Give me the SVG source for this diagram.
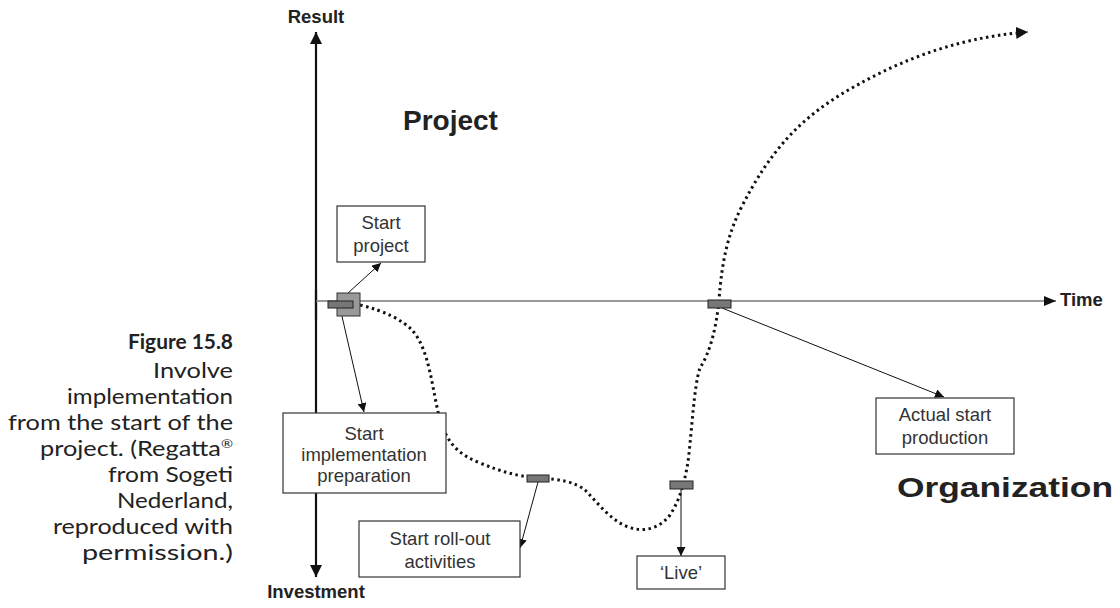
<svg xmlns="http://www.w3.org/2000/svg" width="1120" height="608" viewBox="0 0 1120 608">
<style>
.box{fill:#fff;stroke:#333;stroke-width:1.2}
.bt{font-family:"Liberation Sans",Arial,sans-serif;font-size:18.5px;fill:#333;text-anchor:middle}
.ax{font-family:"Liberation Sans",Arial,sans-serif;font-size:18.5px;font-weight:bold;fill:#222}
.big{font-family:"Liberation Sans",Arial,sans-serif;font-size:28px;font-weight:bold;fill:#222}
.cap{font-family:Lato,"Open Sans",sans-serif;font-size:21px;fill:#222;text-anchor:end}
.conn{stroke:#111;stroke-width:1;fill:none;marker-end:url(#ah)}
.bar{fill:#777;stroke:#222;stroke-width:1}
</style>
<defs>
<marker id="ah" viewBox="0 0 10 10" refX="10" refY="5" markerWidth="9" markerHeight="9" markerUnits="userSpaceOnUse" orient="auto"><path d="M0,0 L10,5 L0,10 z" fill="#111"/></marker>
<marker id="axh" viewBox="0 0 10 10" refX="10" refY="5" markerWidth="12" markerHeight="12" markerUnits="userSpaceOnUse" orient="auto"><path d="M0,0 L10,5 L0,10 z" fill="#111"/></marker>
<marker id="ch" viewBox="0 0 10 10" refX="10" refY="5" markerWidth="4" markerHeight="4" orient="auto"><path d="M0,0 L10,5 L0,10 z" fill="#111"/></marker>
</defs>

<g id="caption">
<text class="cap" x="233" y="349" font-weight="bold" font-size="23" textLength="105" lengthAdjust="spacingAndGlyphs">Figure 15.8</text>
<text class="cap" x="233" y="378" textLength="80" lengthAdjust="spacingAndGlyphs">Involve</text>
<text class="cap" x="233" y="404" textLength="166" lengthAdjust="spacingAndGlyphs">implementation</text>
<text class="cap" x="233" y="430" textLength="225" lengthAdjust="spacingAndGlyphs">from the start of the</text>
<text class="cap" x="233" y="456" textLength="193" lengthAdjust="spacingAndGlyphs">project. (Regatta<tspan font-size="12" dy="-8">®</tspan></text>
<text class="cap" x="233" y="482" textLength="125" lengthAdjust="spacingAndGlyphs">from Sogeti</text>
<text class="cap" x="233" y="508" textLength="116" lengthAdjust="spacingAndGlyphs">Nederland,</text>
<text class="cap" x="233" y="534" textLength="180" lengthAdjust="spacingAndGlyphs">reproduced with</text>
<text class="cap" x="233" y="560" textLength="151" lengthAdjust="spacingAndGlyphs">permission.)</text>
</g>

<g id="axes">
<line x1="316" y1="320" x2="316" y2="32" stroke="#111" stroke-width="2.2" marker-end="url(#axh)"/>
<line x1="316" y1="290" x2="316" y2="577" stroke="#111" stroke-width="2.2" marker-end="url(#axh)"/>
<line x1="316" y1="301" x2="1056" y2="301" stroke="#777" stroke-width="1.6"/>
<path d="M1044,296 L1056,301 L1044,306 z" fill="#111"/>
<text class="ax" x="316" y="23" text-anchor="middle">Result</text>
<text class="ax" x="316" y="598" text-anchor="middle">Investment</text>
<text class="ax" x="1060" y="306">Time</text>
<text class="big" x="403" y="130">Project</text>
<text class="big" x="897" y="497" font-size="33" textLength="216" lengthAdjust="spacingAndGlyphs">Organization</text>
</g>

<g id="connectors">
<path d="M360,305 C385,311 402,320 412,330 C430,350 432,390 440,420 C448,445 460,455 480,463 C500,471 515,476 538,478 C560,479 575,482 585,490 C598,503 610,520 628,527 C645,533 660,528 670,515 C680,500 685,480 688,462 C692,430 694,385 700,368 C710,352 716,330 719,300 C722,260 728,235 740,210 C770,150 800,120 840,95 C890,65 950,38 1028,32" fill="none" stroke="#111" stroke-width="3" stroke-dasharray="2.5 3.5" marker-end="url(#ch)"/>
<line class="conn" x1="348" y1="293" x2="381" y2="263"/>
<line class="conn" x1="341" y1="312" x2="364" y2="412"/>
<line class="conn" x1="538" y1="482" x2="520" y2="548"/>
<line class="conn" x1="681" y1="489" x2="681" y2="556"/>
<line class="conn" x1="722" y1="308" x2="944" y2="397"/>
</g>

<g id="markers">
<rect x="337" y="293" width="23" height="23" fill="#999" stroke="#333" stroke-width="1"/>
<rect class="bar" x="328" y="301" width="25" height="7"/>
<rect class="bar" x="527" y="475" width="22" height="7"/>
<rect class="bar" x="670" y="481" width="23" height="8"/>
<rect class="bar" x="708" y="300" width="23" height="8"/>
</g>

<g id="start-project">
<rect class="box" x="337" y="206" width="88" height="56"/>
<text class="bt" x="381" y="229">Start</text>
<text class="bt" x="381" y="252">project</text>
</g>

<g id="start-implementation">
<rect class="box" x="283" y="413" width="163" height="80"/>
<text class="bt" x="364" y="440">Start</text>
<text class="bt" x="364" y="461">implementation</text>
<text class="bt" x="364" y="482">preparation</text>
</g>

<g id="start-rollout">
<rect class="box" x="359" y="521" width="161" height="56"/>
<text class="bt" x="440" y="545">Start roll-out</text>
<text class="bt" x="440" y="568">activities</text>
</g>

<g id="live">
<rect class="box" x="637" y="556" width="88" height="33"/>
<text class="bt" x="681" y="579">‘Live’</text>
</g>

<g id="actual-start">
<rect class="box" x="876" y="398" width="138" height="56"/>
<text class="bt" x="945" y="421">Actual start</text>
<text class="bt" x="945" y="444">production</text>
</g>
</svg>
